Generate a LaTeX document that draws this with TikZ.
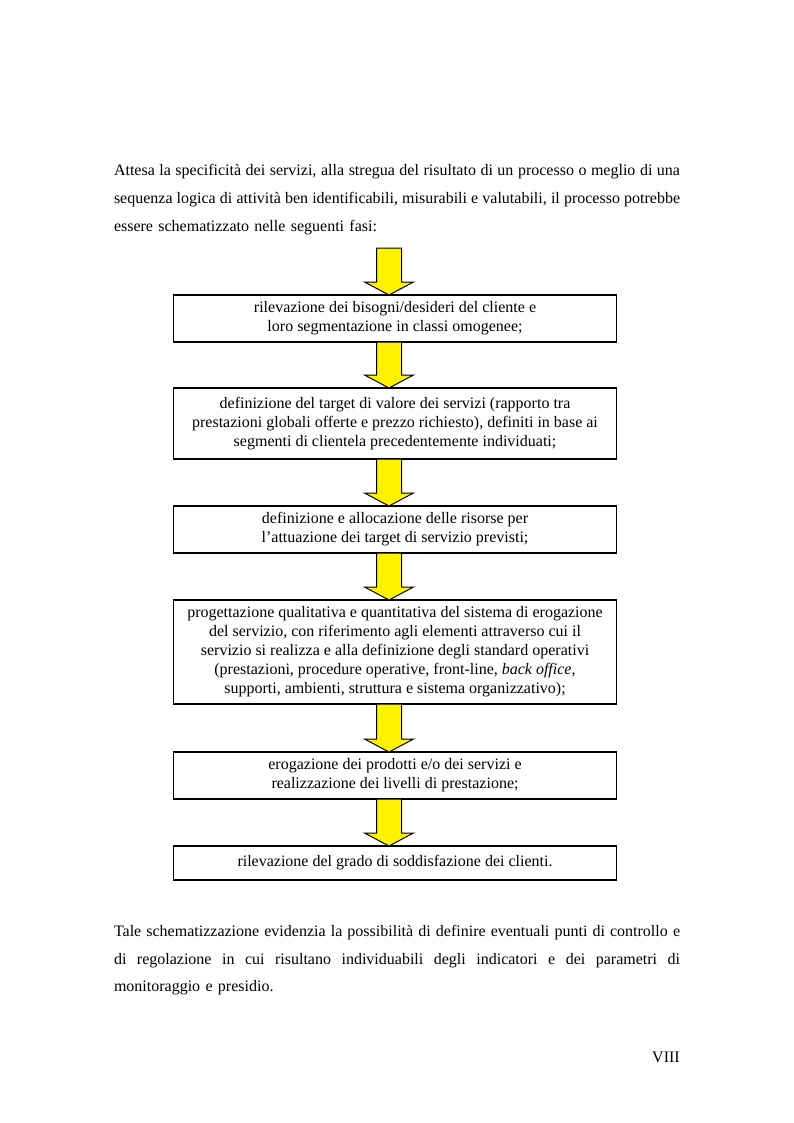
\documentclass[tikz,border=0pt]{standalone}
\usepackage{fontspec}
\setmainfont{Liberation Serif}
\usetikzlibrary{calc}
\newcommand\yarrow[2]{%
  \path let \p1=(#1), \p2=(#2) in
    [draw=black, line width=0.75pt, fill=yellow]
    (282.375pt,\y1) -- (282.375pt,\y2+9.75pt) -- (273.375pt,\y2+9.75pt) --
    (291.75pt,\y2) -- (310.125pt,\y2+9.75pt) -- (301.125pt,\y2+9.75pt) --
    (301.125pt,\y1) -- cycle;}
\newcommand\jline[1]{\makebox[\linewidth][s]{\spaceskip=3pt plus 8pt minus 1.2pt\relax #1}}
\begin{document}
\begin{tikzpicture}[x=0.75pt,y=-0.75pt,
  stepbox/.style={draw=black, line width=0.9pt, minimum width=332.25pt,
    inner sep=0pt, outer sep=0pt, align=center,
    font=\fontsize{12}{14.25}\selectfont},
  para/.style={inner sep=0pt, outer sep=0pt, text width=424.5pt,
    font=\fontsize{12}{20.7}\selectfont}]
\useasboundingbox[fill=white] (0,0) rectangle (793,1123);

\node[para, anchor=base west] (p1) at (114,176) {%
\jline{Attesa la specificità dei servizi, alla stregua del risultato di un processo o meglio di una}\\
\jline{sequenza logica di attività ben identificabili, misurabili e valutabili, il processo potrebbe}\\
essere schematizzato nelle seguenti fasi:};

\coordinate (top) at (389,248);

\node[stepbox, minimum height=35.25pt] (b1) at (395,318.5)
  {rilevazione dei bisogni/desideri del cliente e\\
   loro segmentazione in classi omogenee;};
\node[stepbox, minimum height=53.25pt] (b2) at (395,423.5)
  {definizione del target di valore dei servizi (rapporto tra\\
   prestazioni globali offerte e prezzo richiesto), definiti in base ai\\
   segmenti di clientela precedentemente individuati;};
\node[stepbox, minimum height=35.25pt] (b3) at (395,529.5)
  {definizione e allocazione delle risorse per\\
   l’attuazione dei target di servizio previsti;};
\node[stepbox, minimum height=78pt] (b4) at (395,652)
  {progettazione qualitativa e quantitativa del sistema di erogazione\\
   del servizio, con riferimento agli elementi attraverso cui il\\
   servizio si realizza e alla definizione degli standard operativi\\
   (prestazioni, procedure operative, front-line, \textit{back office},\\
   supporti, ambienti, struttura e sistema organizzativo);};
\node[stepbox, minimum height=35.25pt] (b5) at (395,775.5)
  {erogazione dei prodotti e/o dei servizi e\\
   realizzazione dei livelli di prestazione;};
\node[stepbox, minimum height=25.5pt] (b6) at (395,863)
  {rilevazione del grado di soddisfazione dei clienti.};

\yarrow{top}{b1.north}
\yarrow{b1.south}{b2.north}
\yarrow{b2.south}{b3.north}
\yarrow{b3.south}{b4.north}
\yarrow{b4.south}{b5.north}
\yarrow{b5.south}{b6.north}

\node[para, anchor=base west] (p2) at (114,936.5) {%
\jline{Tale schematizzazione evidenzia la possibilità di definire eventuali punti di controllo e}\\
\jline{di regolazione in cui risultano individuabili degli indicatori e dei parametri di}\\
monitoraggio e presidio.};

\node[inner sep=0pt, anchor=base east, font=\fontsize{12}{14}\selectfont] (pg) at (680,1062) {VIII};
\end{tikzpicture}
\end{document}
